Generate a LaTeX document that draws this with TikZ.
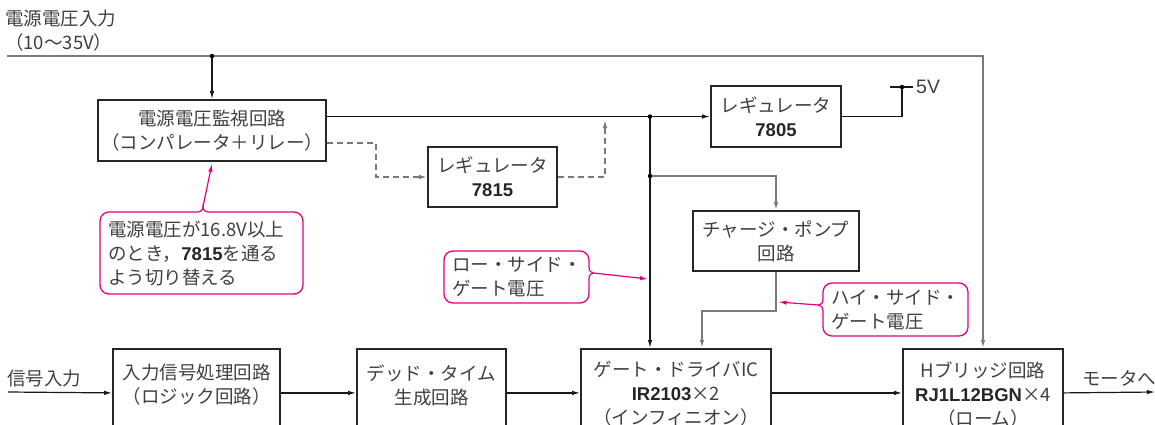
\documentclass[tikz,border=0pt]{standalone}
\usepackage{fontspec}
\setmainfont{Noto Sans CJK JP}
\newfontfamily\latf{Liberation Sans}
\usetikzlibrary{arrows.meta,calc}
\definecolor{mag}{HTML}{E4007F}
\definecolor{txt}{HTML}{404040}
\definecolor{gln}{HTML}{7A7A7A}
\newcommand{\pn}[1]{{\latf\bfseries\color{black!85}#1}}
\begin{document}
\begin{tikzpicture}[x=1pt,y=1pt,
  every node/.style={text=txt, font=\fontsize{18.5}{24}\selectfont, inner sep=0pt},
  box/.style={draw=black!85, line width=1.8pt, align=center},
  call/.style={draw=mag, line width=1.3pt, rounded corners=9pt, align=left, inner xsep=8pt},
  ln/.style={draw=black!90, line width=1.2pt},
  gl/.style={draw=gln, line width=1.5pt},
  dl/.style={draw=gln, line width=1.4pt, dash pattern=on 6pt off 4pt},
  ml/.style={draw=mag, line width=1.2pt},
  arr/.style={-{Latex[length=8pt,width=4.5pt]}},
  dot/.style={circle, fill=black, minimum size=4.5pt, inner sep=0pt}
]
\useasboundingbox (0,0) rectangle (1155,-424);
\clip (0,0) rectangle (1155,-424);

% title
\node[anchor=west, align=left] (ttl) at (5,-31) {電源電圧入力\\（10〜35V）};

% upper boxes
\node[box, minimum width=228pt, minimum height=61pt] (kan) at (212,-130.5) {電源電圧監視回路\\（コンパレータ＋リレー）};
\node[box, minimum width=129pt, minimum height=60pt] (r15) at (492.5,-177) {レギュレータ\\\pn{7815}};
\node[box, minimum width=130pt, minimum height=61pt] (r05) at (776,-116.5) {レギュレータ\\\pn{7805}};
\node[box, minimum width=166pt, minimum height=60pt] (cp) at (776,-241) {チャージ・ポンプ\\回路};

% lower boxes (extend past the bottom edge)
\node[box, minimum width=167pt, minimum height=88pt, anchor=north] (inp) at (196.5,-348) {};
\node[box, minimum width=149pt, minimum height=88pt, anchor=north] (dt) at (431.5,-348) {};
\node[box, minimum width=190pt, minimum height=88pt, anchor=north] (gd) at (676,-348) {};
\node[box, minimum width=160pt, minimum height=88pt, anchor=north] (hb) at (983,-348) {};
\node[align=center] (inpT) at (196.5,-385) {入力信号処理回路\\（ロジック回路）};
\node[align=center] (dtT) at (431.5,-385) {デッド・タイム\\生成回路};
\node[align=center] (gdT) at (676,-394) {ゲート・ドライバIC\\\pn{IR2103}×2\\（インフィニオン）};
\node[align=center] (hbT) at (983,-394) {Hブリッジ回路\\\pn{RJ1L12BGN}×4\\（ローム）};

% supply line
\coordinate (vin) at (7,-56);
\coordinate (j0) at (212,-56);
\draw[gl, arr] (vin) -| (hb.north);
\draw[ln, arr] (j0) -- (kan.north);
\node[dot] at (j0) {};

% monitor -> 7805
\coordinate (j1) at (650,-116.5);
\coordinate (j2) at (650,-176);
\draw[ln, arr] (kan.east |- r05.west) -- (r05.west);
\draw[ln, arr] (j1) -- (j1 |- gd.north);
\node[dot] at (j1) {};
\draw[gl, arr] (j2) -| (cp.north);
\node[dot] at (j2) {};

% dashed path via 7815
\coordinate (d1) at (376,-143);
\coordinate (d2) at (605,-120);
\draw[dl, arr] ([yshift=-12.5pt]kan.east) -- (d1) |- (r15.west);
\draw[dl, arr] (r15.east) -| (d2);

% 7805 -> 5V
\coordinate (v5) at (902,-87);
\draw[ln] (r05.east) -| (v5);
\draw[ln] ([xshift=-12pt]v5) -- ([xshift=11pt]v5);
\node[dot] at (v5) {};
\node[anchor=west, font=\latf\fontsize{19.5}{24}\selectfont] (t5v) at (916,-87) {5V};

% charge pump -> gate driver
\coordinate (k) at (702,-311);
\draw[gl, arr] (cp.south) |- (k) -- (k |- gd.north);

% signal chain
\coordinate (sig) at (8,-392);
\coordinate (mot) at (1155,-392);
\node[anchor=south west] (tsig) at (7,-387) {信号入力};
\node[anchor=south west] (tmot) at (1082,-387) {モータへ};
\draw[ln, arr] (sig) -- (inp.west);
\draw[ln, arr] (inp.east) -- (dt.west);
\draw[ln, arr] (dt.east) -- (gd.west);
\draw[ln, arr] (gd.east) -- (hb.west);
\draw[ln, arr] (hb.east) -- (mot);

% callouts
\node[call, text width=187pt, minimum height=82pt] (c1) at (201.5,-253)
  {電源電圧が16.8V以上\\のとき，\pn{7815}を通る\\よう切り替える};
\node[call, text width=129pt, minimum height=52pt] (c2) at (516.5,-277)
  {ロー・サイド・\\ゲート電圧};
\node[call, text width=129pt, minimum height=53pt] (c3) at (895.5,-309.5)
  {ハイ・サイド・\\ゲート電圧};

% callout pointers
\coordinate (c1a) at (197,-212); \coordinate (c1p) at (203,-206.5); \coordinate (c1b) at (209,-212);
\coordinate (c2a) at (589,-267); \coordinate (c2p) at (593.5,-273); \coordinate (c2b) at (589,-279);
\coordinate (c3a) at (823,-299); \coordinate (c3p) at (818.5,-305); \coordinate (c3b) at (823,-311);
\draw[white, line width=2.6pt] (c1a) -- (c1b);
\draw[white, line width=2.6pt] (c2a) -- (c2b);
\draw[white, line width=2.6pt] (c3a) -- (c3b);
\draw[ml] (c1a) .. controls (201,-212) and (203,-210) .. (c1p) .. controls (203,-210) and (205,-212) .. (c1b);
\draw[ml] (c2a) .. controls (589,-271) and (591,-273) .. (c2p) .. controls (591,-273) and (589,-275) .. (c2b);
\draw[ml] (c3a) .. controls (823,-303) and (821,-305) .. (c3p) .. controls (821,-305) and (823,-307) .. (c3b);
\draw[ml, arr] (c1p) -- ($(kan.south)+(0,-2)$);
\draw[ml, arr] (c2p) -- (648,-279);
\draw[ml, arr] (c3p) -- (778.5,-302);
\end{tikzpicture}
\end{document}
